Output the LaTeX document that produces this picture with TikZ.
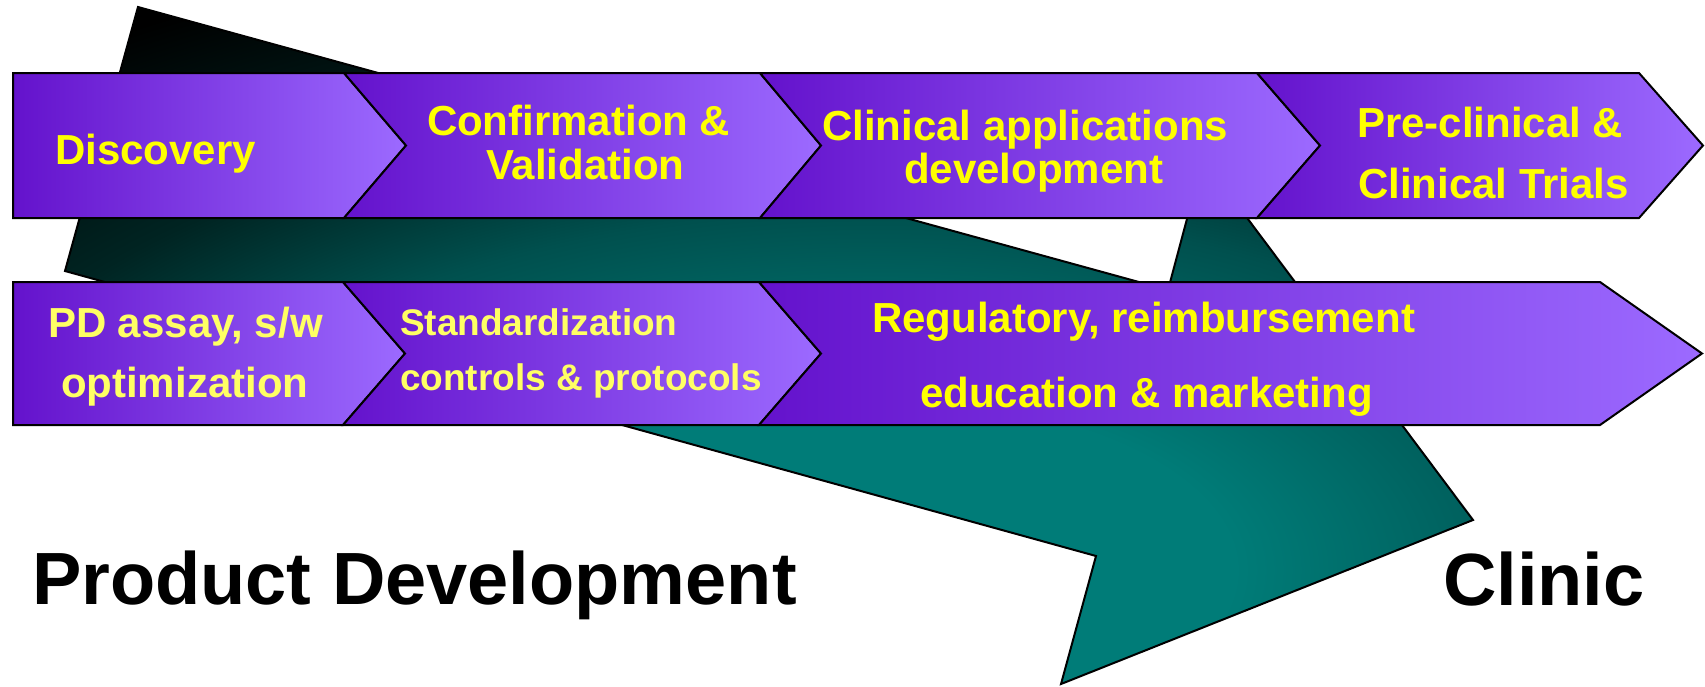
\documentclass[tikz,border=0pt]{standalone}
\usepackage{fontspec}
\setmainfont{Liberation Sans}
\definecolor{pL}{RGB}{100,18,204}
\definecolor{pR}{RGB}{156,106,255}
\definecolor{tealB}{RGB}{0,124,120}
\definecolor{tealM}{RGB}{0,80,78}
\definecolor{tealD}{RGB}{0,36,34}
\definecolor{ylw}{RGB}{255,255,0}
\definecolor{ylwp}{RGB}{255,255,100}
\pgfdeclareradialshading{tealrad}{\pgfpoint{0bp}{0bp}}{color(0bp)=(tealB); color(3.4bp)=(tealB); color(7.2bp)=(tealM); color(9.6bp)=(tealD); color(13bp)=(black); color(25bp)=(black)}
\begin{document}
\begin{tikzpicture}[x=1pt,y=-1pt,
  band/.style={draw=black, line width=2pt, line join=miter, left color=pL, right color=pR},
  lbl/.style={anchor=base west, inner sep=0pt, outer sep=0pt, text=ylw, font=\fontsize{42}{42}\selectfont\bfseries},
  lblp/.style={lbl, text=ylwp},
  lbls/.style={lbl, text=ylwp, font=\fontsize{37}{37}\selectfont\bfseries},
  big/.style={anchor=base west, inner sep=0pt, outer sep=0pt, text=black, font=\fontsize{74}{74}\selectfont\bfseries}]
\useasboundingbox (0,0) rectangle (1705,686);
\fill[white] (0,0) rectangle (1705,686);
% big teal arrow
\coordinate (A) at (138,7);
\coordinate (B) at (1168,290);
\coordinate (C) at (1203,159);
\coordinate (T) at (1473,520);
\coordinate (D) at (1061,684);
\coordinate (E) at (1096,556);
\coordinate (F) at (65,271);
\begin{scope}
\clip (A) -- (B) -- (C) -- (T) -- (D) -- (E) -- (F) -- cycle;
\shade[shading=tealrad] (880,570) ellipse [x radius=2600, y radius=1250];
\end{scope}
\draw[black, line width=2pt, line join=miter] (A) -- (B) -- (C) -- (T) -- (D) -- (E) -- (F) -- cycle;
% top band
\draw[band] (13,73) -- (344,73) -- (406,145.5) -- (344,218) -- (13,218) -- cycle;
\draw[band] (344,73) -- (760,73) -- (821,145.5) -- (760,218) -- (344,218) -- (406,145.5) -- cycle;
\draw[band] (760,73) -- (1257,73) -- (1320,145.5) -- (1257,218) -- (760,218) -- (821,145.5) -- cycle;
\draw[band] (1257,73) -- (1639,73) -- (1703,145.5) -- (1639,218) -- (1257,218) -- (1320,145.5) -- cycle;
% bottom band
\draw[band] (13,282) -- (343,282) -- (405,353.5) -- (343,425) -- (13,425) -- cycle;
\draw[band] (343,282) -- (759,282) -- (821,353.5) -- (759,425) -- (343,425) -- (405,353.5) -- cycle;
\draw[band] (759,282) -- (1600,282) -- (1702,353.5) -- (1600,425) -- (759,425) -- (821,353.5) -- cycle;
% labels
\node[lbl] (disc) at (55,164) {Discovery};
\node[lbl] (conf1) at (427,135) {Confirmation \&};
\node[lbl] (conf2) at (486,179) {Validation};
\node[lbl] (clin1) at (822,140) {Clinical applications};
\node[lbl] (clin2) at (904,183) {development};
\node[lbl] (pre1) at (1357,137) {Pre-clinical \&};
\node[lbl] (pre2) at (1358,198) {Clinical Trials};
\node[lblp] (pd1) at (48,337) {PD assay, s/w};
\node[lblp] (pd2) at (61,397) {optimization};
\node[lbls] (std1) at (400,335) {Standardization};
\node[lbls] (std2) at (400,390) {controls \& protocols};
\node[lbl] (reg1) at (872,332) {Regulatory, reimbursement};
\node[lbl] (reg2) at (920,407) {education \& marketing};
\node[big] (prod) at (32,604) {Product Development};
\node[big] (clinic) at (1443,605) {Clinic};
\end{tikzpicture}
\end{document}
